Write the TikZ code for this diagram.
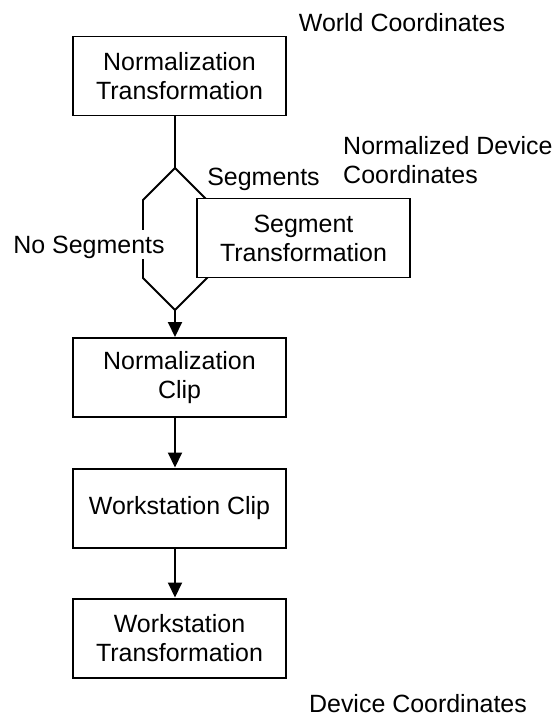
\documentclass[tikz,border=0pt]{standalone}
\usepackage{fontspec}
\setmainfont{Liberation Sans}
\usetikzlibrary{arrows.meta}
\tikzset{
    BOX/.style={draw=black, shape=rectangle, fill=white, line width=1.7pt,
        minimum width=6.39cm, minimum height=2.37cm, align=center, inner sep=0mm},
    LABEL/.style={inner sep=0mm},
    GAP_LABEL/.style={LABEL, fill=white, text height=0.69cm, text depth=0.165cm},
    EDGE/.style={draw=black, line width=1.7pt},
    ARROW_EDGE/.style={EDGE, -{Triangle[length=0.45cm, width=0.42cm]}}
}
\pgfdeclarelayer{edgelayer}
\pgfdeclarelayer{nodelayer}
\pgfsetlayers{edgelayer,nodelayer,main}

\begin{document}
\begin{tikzpicture}[font=\fontsize{21.3}{24.7}\selectfont]
    \useasboundingbox (0, 0) rectangle (16.59, -21.51);
    \begin{pgfonlayer}{nodelayer}
        \node [BOX] (1) at (5.385, -2.28) {Normalization\\Transformation};
        \node [BOX] (2) at (9.105, -7.14) {Segment\\Transformation};
        \node [BOX] (3) at (5.385, -11.325) {Normalization\\Clip};
        \node [BOX] (4) at (5.385, -15.24) {Workstation Clip};
        \node [BOX] (5) at (5.385, -19.14) {Workstation\\Transformation};
        \node [LABEL, anchor=base] (6) at (12.06, -0.96) {World Coordinates};
        \node [LABEL, anchor=north west, align=left] (7) at (10.29, -4.08) {Normalized Device\\Coordinates};
        \node [LABEL, anchor=base] (8) at (7.905, -5.55) {Segments};
        \node [GAP_LABEL, anchor=base] (9) at (2.67, -7.59) {No Segments};
        \node [LABEL, anchor=base] (10) at (12.54, -21.36) {Device Coordinates};
        \coordinate (11) at (5.25, -5.04);
        \coordinate (12) at (4.29, -6.0);
        \coordinate (13) at (4.29, -8.34);
        \coordinate (14) at (5.25, -9.3);
        \coordinate (15) at (6.45, -6.24);
        \coordinate (16) at (6.45, -8.1);
    \end{pgfonlayer}
    \begin{pgfonlayer}{edgelayer}
        \draw[EDGE] (1.south -| 11) to (11);
        \draw[EDGE] (15) -- (11) -- (12) -- (13) -- (14) -- (16);
        \draw[ARROW_EDGE] (14) to (3.north -| 14);
        \draw[ARROW_EDGE] (3.south -| 14) to (4.north -| 14);
        \draw[ARROW_EDGE] (4.south -| 14) to (5.north -| 14);
    \end{pgfonlayer}
\end{tikzpicture}
\end{document}
